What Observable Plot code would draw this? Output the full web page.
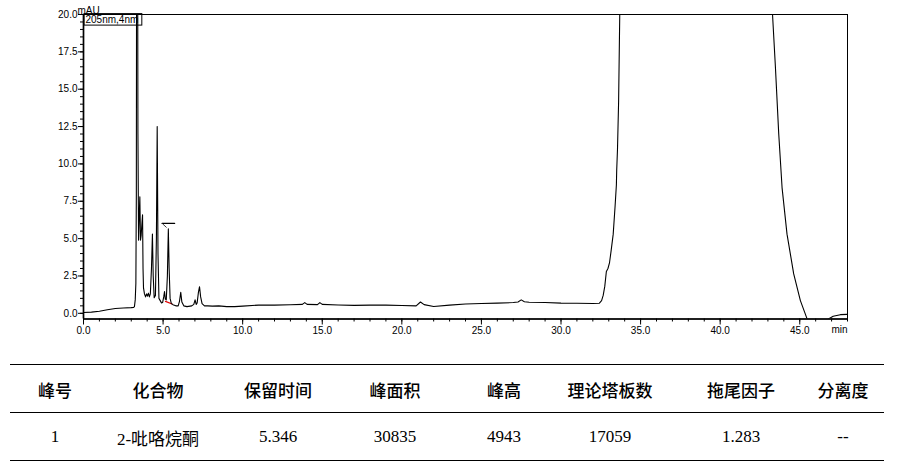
<!DOCTYPE html>
<html>
<head>
<meta charset="utf-8">
<script src="https://cdn.jsdelivr.net/npm/d3@7"></script>
<script src="https://cdn.jsdelivr.net/npm/@observablehq/plot@0.6"></script>
<style>
  body { margin: 0; background: #fff; }
  #table { position: relative; width: 907px; height: 117px; }
  .rule { position: absolute; left: 10px; width: 874px; border-top: 1.5px solid #000; height: 0; }
  .cell { position: absolute; transform: translate(-50%, -50%); white-space: nowrap; color: #000; }
  .head { font-family: "Noto Sans CJK SC", sans-serif; font-size: 17px; font-weight: 500; }
  .data { font-family: "Liberation Serif", "Noto Sans CJK SC", serif; font-size: 17px; }
</style>
</head>
<body>
<div id="chart"></div>
<div id="table"></div>
<script>
// ---- chromatogram (time in min, signal in mAU) ----
const time = [0.0,0.5,1.0,1.5,2.0,2.5,3.0,3.15,3.20,3.25,3.29,3.32,3.35,3.38,3.42,3.46,3.50,3.54,3.58,3.62,3.67,3.71,3.74,3.77,3.83,3.90,3.96,4.02,4.08,4.14,4.20,4.27,4.33,4.38,4.44,4.52,4.58,4.63,4.68,4.74,4.82,4.90,4.97,5.04,5.09,5.14,5.20,5.27,5.33,5.38,5.44,5.52,5.62,5.80,5.95,6.03,6.11,6.18,6.30,6.50,6.80,6.93,7.01,7.08,7.14,7.22,7.29,7.36,7.45,7.6,7.8,8.1,8.5,9.0,9.5,10.0,11.0,12.0,13.0,13.75,13.9,14.05,14.7,14.85,15.0,16.0,17.0,18.0,19.0,20.0,20.9,21.17,21.4,22.0,23.0,24.0,25.0,26.0,27.0,27.3,27.5,27.7,28.0,29.0,30.0,31.0,32.0,32.4,32.55,32.65,32.75,32.85,32.95,33.05,33.15,33.28,33.40,33.48,33.50,33.55,33.62,33.69,33.75,34.5,38.0,42.0,43.1,43.3,43.47,43.68,43.89,44.2,44.62,45.04,45.3,45.46,45.7,46.1,46.5,46.8,47.1,47.55,48.0];
const signal = [0.05,0.08,0.14,0.24,0.32,0.36,0.38,0.40,0.45,0.9,2.0,8,40,40,12,4.9,6.5,7.8,4.9,5.2,6.0,6.6,3.0,1.7,1.3,1.1,1.3,1.15,1.35,1.1,1.3,3.0,5.3,2.5,1.05,1.2,5.0,12.5,4.0,1.0,0.85,0.7,0.72,1.1,1.45,0.95,0.9,2.5,5.65,3.0,1.0,0.65,0.58,0.5,0.5,0.8,1.4,0.75,0.5,0.45,0.5,0.6,0.9,0.6,0.7,1.4,1.78,1.1,0.65,0.5,0.5,0.48,0.5,0.45,0.45,0.48,0.55,0.55,0.57,0.6,0.72,0.6,0.58,0.72,0.6,0.56,0.53,0.55,0.55,0.52,0.5,0.76,0.58,0.46,0.55,0.62,0.66,0.68,0.72,0.76,0.9,0.77,0.74,0.72,0.68,0.67,0.66,0.67,0.85,1.2,1.8,2.8,3.0,3.4,4.2,5.3,7.2,8.6,9.6,11.0,14.2,19.9,26,300,1500,300,24,19.8,16.5,12.0,8.4,5.3,2.64,0.85,0.1,-0.37,-0.9,-1.3,-0.9,-0.38,-0.2,-0.09,-0.07];

// integration baseline (red) and peak marker of peak 1
const integT = [5.15, 5.57];
const integV = [0.80, 0.62];
const markT = [4.94, 5.72];
const markV = [6.02, 6.02];
const markDiagT = [4.98, 5.20];
const markDiagV = [5.98, 5.76];

// axes
const xDomain = [0, 48];
const yDomain = [-0.38, 20];
const xMajor = [0, 5, 10, 15, 20, 25, 30, 35, 40, 45];
const xMinor = d3.range(0, 48.01, 1);
const yMajor = [0, 2.5, 5, 7.5, 10, 12.5, 15, 17.5, 20];
const yMinor = d3.range(0, 20.01, 0.5);
const yUnit = "mAU";
const xUnit = "min";
const channel = "205nm,4nm";

// table
const headers = ["峰号", "化合物", "保留时间", "峰面积", "峰高", "理论塔板数", "拖尾因子", "分离度"];
const row1 = ["1", "2-吡咯烷酮", "5.346", "30835", "4943", "17059", "1.283", "--"];

const data = time.map((t, i) => ({t, v: signal[i]}));
const fmt = d3.format(".1f");

const chart = Plot.plot({
  width: 907,
  height: 350,
  marginLeft: 83,
  marginRight: 60,
  marginTop: 14,
  marginBottom: 31.5,
  style: {fontFamily: "'Liberation Sans', Arial, sans-serif", fontSize: "10px", color: "#000", background: "#fff", overflow: "visible"},
  x: {domain: xDomain, label: null},
  y: {domain: yDomain, label: null},
  marks: [
    Plot.frame({stroke: "#000", strokeWidth: 1}),
    Plot.line(integT.map((t, i) => ({t, v: integV[i]})), {x: "t", y: "v", stroke: "#e00000", strokeWidth: 1.2}),
    Plot.line(data, {x: "t", y: "v", stroke: "#000", strokeWidth: 1.1, clip: true}),
    Plot.line(markT.map((t, i) => ({t, v: markV[i]})), {x: "t", y: "v", stroke: "#000", strokeWidth: 1.4}),
    Plot.line(markDiagT.map((t, i) => ({t, v: markDiagV[i]})), {x: "t", y: "v", stroke: "#3a3a3a", strokeWidth: 1}),
    Plot.ruleX([xDomain[0]], {stroke: "#000", strokeWidth: 1.7}),
    Plot.ruleY([yDomain[0]], {stroke: "#000", strokeWidth: 1.7}),
    Plot.axisY({ticks: yMajor, tickFormat: fmt, tickSize: 5, tickPadding: 1, label: null}),
    Plot.axisY({ticks: yMinor, tickFormat: () => "", tickSize: 3, label: null}),
    Plot.axisX({ticks: xMajor, tickFormat: fmt, tickSize: 6, tickPadding: 2, label: null}),
    Plot.axisX({ticks: xMinor, tickFormat: () => "", tickSize: 3, label: null}),
    Plot.text([yUnit], {frameAnchor: "top-left", text: d => d, textAnchor: "start", lineAnchor: "bottom", dx: -6, dy: -1, fill: "#000"}),
    Plot.text([xUnit], {frameAnchor: "bottom-right", text: d => d, textAnchor: "end", lineAnchor: "top", dx: 0, dy: 6.5, fill: "#000"}),
    Plot.text([channel], {frameAnchor: "top-left", text: d => d, textAnchor: "start", lineAnchor: "top", dx: 2, dy: 1.5, fill: "#000", className: "chan"})
  ]
});
document.getElementById("chart").appendChild(chart);

// box around the channel label
const chan = chart.querySelector(".chan text");
if (chan) {
  const b = chan.getBBox();
  const g = chan.parentNode;
  const r = document.createElementNS("http://www.w3.org/2000/svg", "rect");
  r.setAttribute("x", b.x - 1.5);
  r.setAttribute("y", b.y - 0.5);
  r.setAttribute("width", b.width + 5);
  r.setAttribute("height", b.height + 0.5);
  r.setAttribute("fill", "none");
  r.setAttribute("stroke", "#000");
  r.setAttribute("stroke-width", 1);
  r.setAttribute("transform", chan.getAttribute("transform") || "");
  g.insertBefore(r, chan);
}

// table
const tbl = document.getElementById("table");
const colX = [55, 158, 278, 395, 504, 610, 741, 843];
[14, 62, 110].forEach(y => {
  const d = document.createElement("div");
  d.className = "rule";
  d.style.top = y + "px";
  tbl.appendChild(d);
});
headers.forEach((h, i) => {
  const d = document.createElement("div");
  d.className = "cell head";
  d.style.left = colX[i] + "px";
  d.style.top = "39px";
  d.textContent = h;
  tbl.appendChild(d);
});
row1.forEach((h, i) => {
  const d = document.createElement("div");
  d.className = "cell data";
  d.style.left = colX[i] + "px";
  d.style.top = "87px";
  d.textContent = h;
  tbl.appendChild(d);
});
</script>
</body>
</html>
